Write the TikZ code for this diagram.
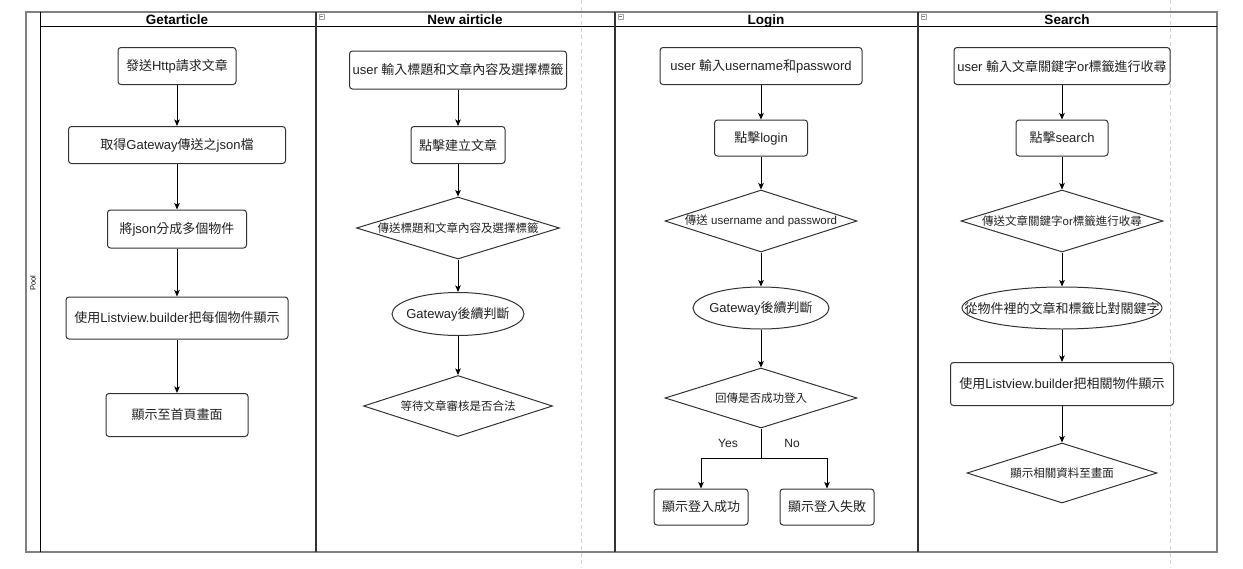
\documentclass[tikz,border=0pt]{standalone}
\usepackage{fontspec}
\setmainfont{Liberation Sans}
\newfontfamily\cjkf{Noto Sans CJK TC}
\newcommand\C[1]{{\cjkf #1}}
\newcommand\T[1]{\makebox[0pt][c]{#1}}
\usetikzlibrary{shapes.geometric,arrows.meta}
\definecolor{txt}{HTML}{222222}
\definecolor{edge}{HTML}{333333}
\definecolor{poolc}{HTML}{808080}
\definecolor{dashc}{HTML}{D4D4D4}
\tikzset{
  base/.style={draw=edge, line width=1pt, fill=white, inner sep=0pt, text=txt},
  box/.style={base, rectangle, rounded corners=3pt, font=\fontsize{13}{15}\selectfont},
  dia/.style={base, diamond, font=\fontsize{11.5}{13}\selectfont},
  ell/.style={base, ellipse, font=\fontsize{13}{15}\selectfont},
  arr/.style={draw=black, line width=0.9pt, -{Stealth[length=6.5pt,width=5.5pt,inset=1.5pt]}},
  ln/.style={draw=black, line width=0.9pt},
  lanehead/.style={font=\bfseries\fontsize{13.5}{15}\selectfont, text=black, inner sep=0pt, anchor=base},
  icon/.style={draw=poolc!70, line width=0.5pt, minimum size=5pt, inner sep=0pt, fill=white},
  lbl/.style={font=\fontsize{12}{14}\selectfont, text=txt, inner sep=0pt}
}
\begin{document}
\begin{tikzpicture}[x=1pt,y=-1pt]
\useasboundingbox (0,0) rectangle (1243,568);
\fill[white] (0,0) rectangle (1243,568);
% page break lines
\draw[dashc, line width=1pt, dash pattern=on 4pt off 3pt] (581,0) -- (581,568);
\draw[dashc, line width=1pt, dash pattern=on 4pt off 3pt] (1170,0) -- (1170,568);
% pool
\draw[poolc, line width=1.6pt] (26,12) rectangle (1217,552);
\draw[black, line width=0.9pt] (40,12) -- (40,552);
\draw[black, line width=0.9pt] (40,26) -- (1217,26);
\draw[edge, line width=1.3pt] (316,12) -- (316,552);
\draw[edge, line width=1.3pt] (615,12) -- (615,552);
\draw[edge, line width=1.3pt] (918,12) -- (918,552);
\node[rotate=90, font=\fontsize{7.5}{8}\selectfont, inner sep=0pt] (pool) at (33,283) {Pool};
\node[lanehead] (h1) at (177,24) {Getarticle};
\node[lanehead] (h2) at (465,24) {New airticle};
\node[lanehead] (h3) at (766,24) {Login};
\node[lanehead] (h4) at (1067,24) {Search};
\node[icon] (i2) at (322,16.5) {};
\node[icon] (i3) at (621,16.5) {};
\node[icon] (i4) at (924,16.5) {};
\draw[poolc, line width=0.5pt] (i2.west) ++(1.2,0) -- ++(2.6,0);
\draw[poolc, line width=0.5pt] (i3.west) ++(1.2,0) -- ++(2.6,0);
\draw[poolc, line width=0.5pt] (i4.west) ++(1.2,0) -- ++(2.6,0);
% lane 1
\node[box, minimum width=118pt, minimum height=37pt] (n1) at (177,66) {\T{\C{發送}Http\C{請求文章}}};
\node[box, minimum width=217pt, minimum height=37pt] (n2) at (177,145) {\T{\C{取得}Gateway\C{傳送之}json\C{檔}}};
\node[box, minimum width=139pt, minimum height=38pt] (n3) at (177,229) {\T{\C{將}json\C{分成多個物件}}};
\node[box, minimum width=222pt, minimum height=42pt] (n4) at (177,318) {\T{\C{使用}Listview.builder\C{把每個物件顯示}}};
\node[box, minimum width=142pt, minimum height=43pt] (n5) at (177,415) {\T{\C{顯示至首頁畫面}}};
\draw[arr] (n1) -- (n2);
\draw[arr] (n2) -- (n3);
\draw[arr] (n3) -- (n4);
\draw[arr] (n4) -- (n5);
% lane 2
\node[box, minimum width=217pt, minimum height=38pt] (m1) at (458,70) {\T{user \C{輸入標題和文章內容及選擇標籤}}};
\node[box, minimum width=94pt, minimum height=37pt] (m2) at (458,145) {\T{\C{點擊建立文章}}};
\node[dia, minimum width=203pt, minimum height=62pt] (m3) at (458,228) {\T{\C{傳送標題和文章內容及選擇標籤}}};
\node[ell, minimum width=132pt, minimum height=43pt] (m4) at (458,314) {\T{Gateway\C{後續判斷}}};
\node[dia, minimum width=189pt, minimum height=61pt] (m5) at (458,406) {\T{\C{等待文章審核是否合法}}};
\draw[arr] (m1) -- (m2);
\draw[arr] (m2) -- (m3);
\draw[arr] (m3) -- (m4);
\draw[arr] (m4) -- (m5);
% lane 3
\node[box, minimum width=202pt, minimum height=37pt] (l1) at (761,66) {\T{user \C{輸入}username\C{和}password}};
\node[box, minimum width=93pt, minimum height=36pt] (l2) at (761,138) {\T{\C{點擊}login}};
\node[dia, minimum width=192pt, minimum height=62pt] (l3) at (761,221) {\T{\C{傳送} username and password}};
\node[ell, minimum width=136pt, minimum height=42pt] (l4) at (761,308) {\T{Gateway\C{後續判斷}}};
\node[dia, minimum width=192pt, minimum height=60pt] (l5) at (761,398) {\T{\C{回傳是否成功登入}}};
\coordinate (br) at (761,458);
\node[box, minimum width=94pt, minimum height=36pt] (l6) at (701,507) {\T{\C{顯示登入成功}}};
\node[box, minimum width=94pt, minimum height=36pt] (l7) at (827,507) {\T{\C{顯示登入失敗}}};
\node[lbl] (yes) at (728,443) {Yes};
\node[lbl] (no) at (792,443) {No};
\draw[arr] (l1) -- (l2);
\draw[arr] (l2) -- (l3);
\draw[arr] (l3) -- (l4);
\draw[arr] (l4) -- (l5);
\draw[ln] (l5.south) -- (br);
\draw[arr] (br) -| (l6.north);
\draw[arr] (br) -| (l7.north);
% lane 4
\node[box, minimum width=216pt, minimum height=37pt] (s1) at (1062,66) {\T{user \C{輸入文章關鍵字}or\C{標籤進行收尋}}};
\node[box, minimum width=92pt, minimum height=36pt] (s2) at (1062,138) {\T{\C{點擊}search}};
\node[dia, minimum width=202pt, minimum height=62pt] (s3) at (1062,221) {\T{\C{傳送文章關鍵字}or\C{標籤進行收尋}}};
\node[ell, minimum width=200pt, minimum height=42pt] (s4) at (1062,308) {\T{\C{從物件裡的文章和標籤比對關鍵字}}};
\node[box, minimum width=223pt, minimum height=43pt] (s5) at (1062,384) {\T{\C{使用}Listview.builder\C{把相關物件顯示}}};
\node[dia, minimum width=190pt, minimum height=60pt] (s6) at (1062,473) {\T{\C{顯示相關資料至畫面}}};
\draw[arr] (s1) -- (s2);
\draw[arr] (s2) -- (s3);
\draw[arr] (s3) -- (s4);
\draw[arr] (s4) -- (s5);
\draw[arr] (s5) -- (s6);
\end{tikzpicture}
\end{document}
